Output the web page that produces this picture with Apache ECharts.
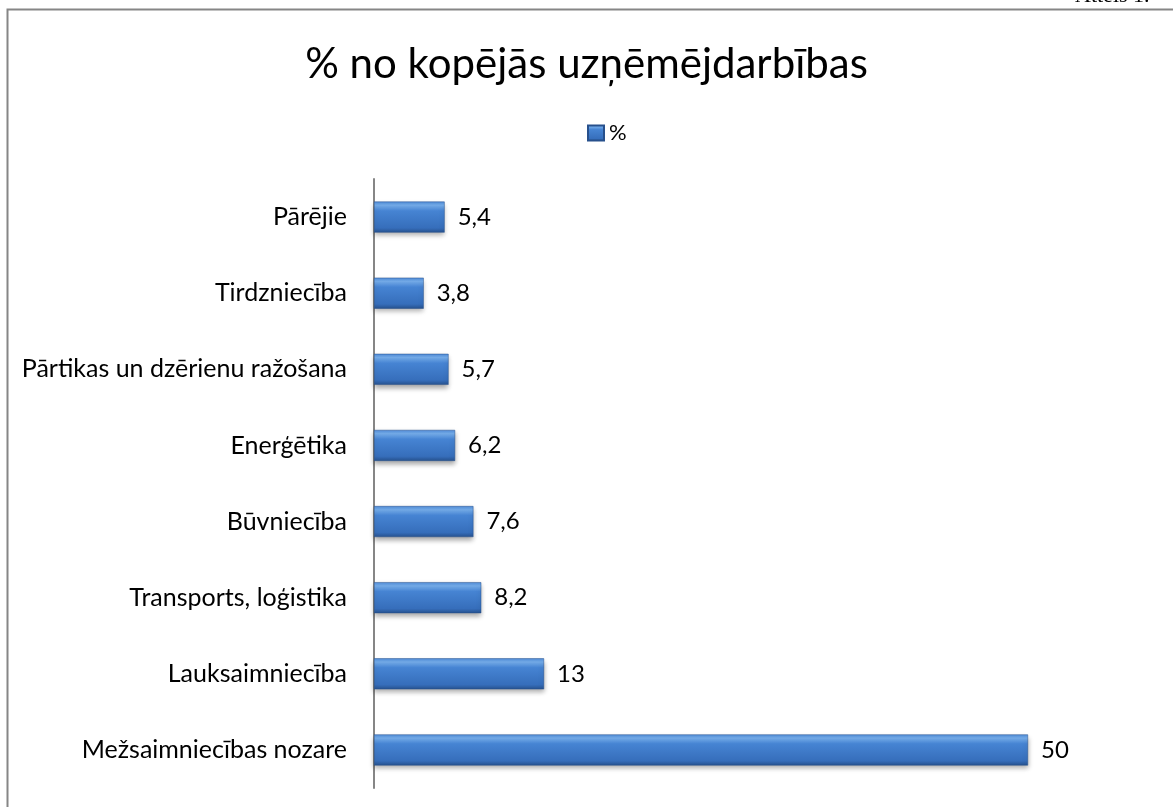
<!DOCTYPE html>
<html>
<head>
<meta charset="utf-8">
<script src="https://cdn.jsdelivr.net/npm/echarts@6/dist/echarts.min.js"></script>
<style>
  html, body { margin: 0; padding: 0; background: #fff; }
  #chart { width: 1173px; height: 807px; }
</style>
</head>
<body>
<div id="chart"></div>
<script>
const categories = [
  "Mežsaimniecības nozare",
  "Lauksaimniecība",
  "Transports, loģistika",
  "Būvniecība",
  "Enerģētika",
  "Pārtikas un dzērienu ražošana",
  "Tirdzniecība",
  "Pārējie"
];
const values = [50, 13, 8.2, 7.6, 6.2, 5.7, 3.8, 5.4];
const seriesName = "%";

const chart = echarts.init(document.getElementById("chart"));

const barColor = new echarts.graphic.LinearGradient(0, 0, 0, 1, [
  { offset: 0, color: "#4f8cda" },
  { offset: 0.12, color: "#76aeec" },
  { offset: 0.3, color: "#4684d3" },
  { offset: 0.85, color: "#366ebb" },
  { offset: 1, color: "#27528f" }
]);

const options = {
  animation: false,
  textStyle: { fontFamily: "Lato, Open Sans, sans-serif" },
  title: {
    text: "% no kopējās uzņēmējdarbības",
    left: "center",
    top: 38,
    textStyle: { fontSize: 42, fontWeight: "normal", color: "#000", fontFamily: "Lato, sans-serif" }
  },
  legend: {
    data: [{ name: seriesName, icon: "rect" }],
    top: 117,
    left: 582,
    itemWidth: 16,
    itemHeight: 15,
    itemGap: 5,
    textStyle: { fontSize: 22, color: "#000" }
  },
  graphic: [
    {
      type: "rect",
      shape: { x: 7.5, y: 9.5, width: 1200, height: 850 },
      style: { fill: "none", stroke: "#868686", lineWidth: 2 },
      silent: true
    },
    {
      type: "text",
      left: 1075,
      top: -15,
      style: { text: "Attēls 1.", font: "22px 'Liberation Serif', serif", fill: "#000" }
    }
  ],
  grid: { left: 374, top: 179, width: 654, bottom: 19, containLabel: false },
  xAxis: {
    type: "value",
    min: 0,
    max: 50,
    show: false
  },
  yAxis: {
    type: "category",
    data: categories,
    axisLine: { show: true, lineStyle: { color: "#868686", width: 2 } },
    axisTick: { show: false },
    axisLabel: { fontSize: 25, color: "#000", margin: 27 }
  },
  series: [
    {
      name: seriesName,
      type: "bar",
      data: values,
      barWidth: 31,
      itemStyle: {
        color: barColor,
        borderColor: "#27508c",
        borderWidth: 0.5,
        shadowColor: "rgba(0,0,0,0.35)",
        shadowBlur: 5,
        shadowOffsetY: 3
      },
      label: {
        show: true,
        position: "right",
        distance: 13,
        fontSize: 24,
        color: "#000",
        formatter: p => String(p.value).replace(".", ",")
      }
    }
  ]
};

chart.setOption(options);
</script>
</body>
</html>
